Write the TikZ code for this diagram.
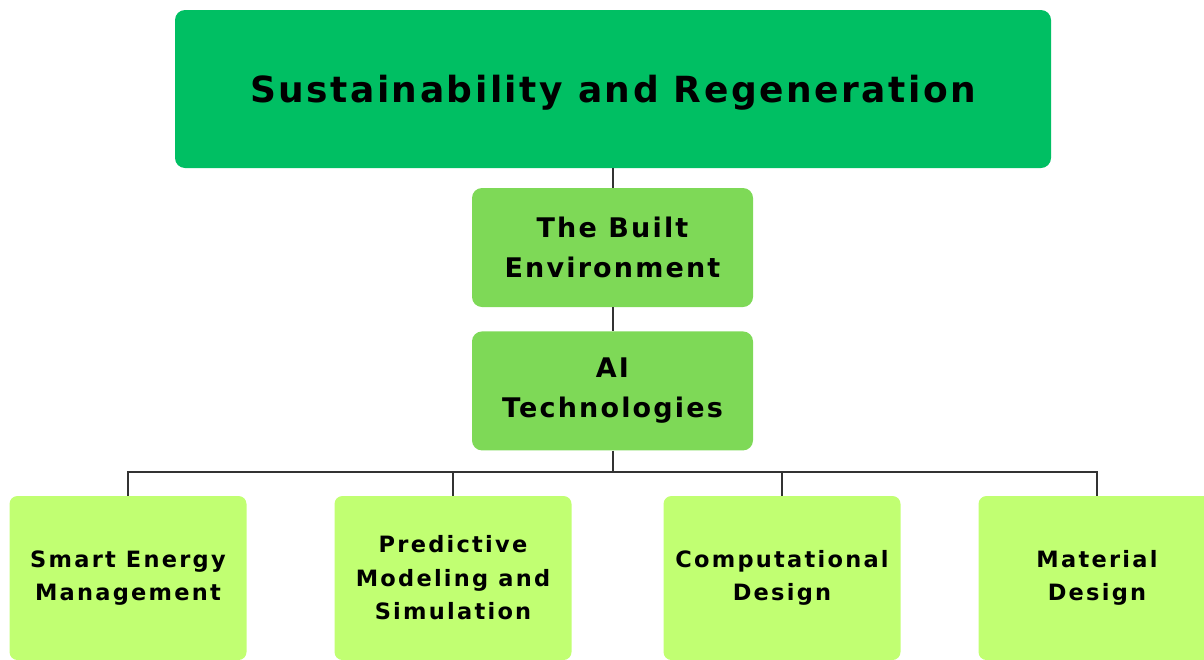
\documentclass[tikz,border=0pt]{standalone}
\usepackage{fontspec}
\setmainfont{DejaVu Sans}
\newfontfamily\titlefont{DejaVu Sans}[LetterSpace=7]
\newfontfamily\midfont{DejaVu Sans}[LetterSpace=8]
\newfontfamily\leaffont{DejaVu Sans}[LetterSpace=10]
\usetikzlibrary{positioning}

\definecolor{topgreen}{RGB}{0,191,99}
\definecolor{midgreen}{RGB}{126,217,87}
\definecolor{leafgreen}{RGB}{193,255,114}
\definecolor{linkgray}{RGB}{51,51,51}

\begin{document}
\begin{tikzpicture}[
  x=1pt, y=-1pt,
  node distance=20pt and 20pt,
  topbox/.style={fill=topgreen, rounded corners=10pt, minimum width=876pt, minimum height=158pt, text depth=0pt, font=\titlefont\bfseries\fontsize{36}{44}\selectfont},
  midbox/.style={fill=midgreen, rounded corners=10pt, minimum width=281pt, minimum height=119pt, align=center, font=\midfont\bfseries\fontsize{27}{40}\selectfont},
  leafbox/.style={fill=leafgreen, rounded corners=8pt, minimum width=237pt, minimum height=164pt, align=center, font=\leaffont\bfseries\fontsize{22.5}{33.5}\selectfont},
  link/.style={draw=linkgray, line width=2pt}
]
\useasboundingbox (0,0) rectangle (1204,659);
\clip (0,0) rectangle (1204,659);

\node[topbox] (sus) at (613,89) {Sustainability and Regeneration};
\node[midbox] (built) at (612.5,247.5) {The Built\\Environment};
\node[midbox, below=24pt of built] (ai) {AI\\Technologies};

% bottom row
\node[leafbox] (sem) at (128,578) {Smart Energy\\Management};
\node[leafbox] (pms) at (453,578) {Predictive\\Modeling and\\Simulation};
\node[leafbox] (cd) at (782,578) {Computational\\Design};
\node[leafbox] (md) at (1097,578) {Material\\Design};

\coordinate (bar) at ([yshift=-21pt]ai.south);
\draw[link] (built.north) -- (built.north |- sus.south);
\draw[link] (built) -- (ai);
\draw[link] (ai) -- (bar);
\foreach \n in {sem,pms,cd,md}
  \draw[link] (bar) -| (\n);
\end{tikzpicture}
\end{document}
